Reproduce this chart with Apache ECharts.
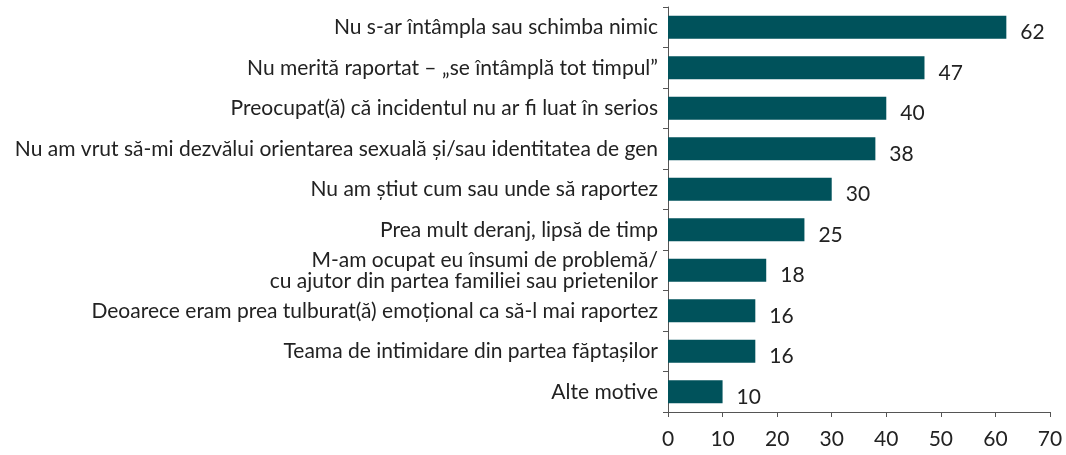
<!DOCTYPE html>
<html>
<head>
<meta charset="utf-8">
<script src="https://cdn.jsdelivr.net/npm/echarts@6/dist/echarts.min.js"></script>
<style>
html,body{margin:0;padding:0;background:#fff;}
#chart{width:1066px;height:455px;}
</style>
</head>
<body>
<div id="chart"></div>
<script>
var categories = [
  "Nu s-ar întâmpla sau schimba nimic",
  "Nu merită raportat – „se întâmplă tot timpul”",
  "Preocupat(ă) că incidentul nu ar fi luat în serios",
  "Nu am vrut să-mi dezvălui orientarea sexuală și/sau identitatea de gen",
  "Nu am știut cum sau unde să raportez",
  "Prea mult deranj, lipsă de timp",
  "M-am ocupat eu însumi de problemă/\ncu ajutor din partea familiei sau prietenilor",
  "Deoarece eram prea tulburat(ă) emoțional ca să-l mai raportez",
  "Teama de intimidare din partea făptașilor",
  "Alte motive"
];
var values = [62, 47, 40, 38, 30, 25, 18, 16, 16, 10];

var FONT = "Lato";
var chart = echarts.init(document.getElementById('chart'));
chart.setOption({
  animation: false,
  grid: {left: 668, right: 16, top: 7, bottom: 43, containLabel: false},
  xAxis: {
    type: 'value', min: 0, max: 70, interval: 10,
    axisLine: {show: true, lineStyle: {color: '#555', width: 1}},
    axisTick: {show: true, length: 5, lineStyle: {color: '#555'}},
    splitLine: {show: false},
    axisLabel: {color: '#222', fontFamily: FONT, fontSize: 21, margin: 17}
  },
  yAxis: {
    type: 'category', inverse: true, data: categories,
    axisLine: {show: true, lineStyle: {color: '#555', width: 1}},
    axisTick: {show: true, length: 5, lineStyle: {color: '#555'}},
    axisLabel: {color: '#222', fontFamily: FONT, fontSize: 21, margin: 10, lineHeight: 21}
  },
  series: [{
    type: 'bar', data: values, barWidth: 23,
    itemStyle: {color: '#00525b'},
    label: {show: true, position: 'right', distance: 14, offset: [0, 5],
      color: '#222', fontFamily: FONT, fontSize: 21}
  }]
});
</script>
</body>
</html>
